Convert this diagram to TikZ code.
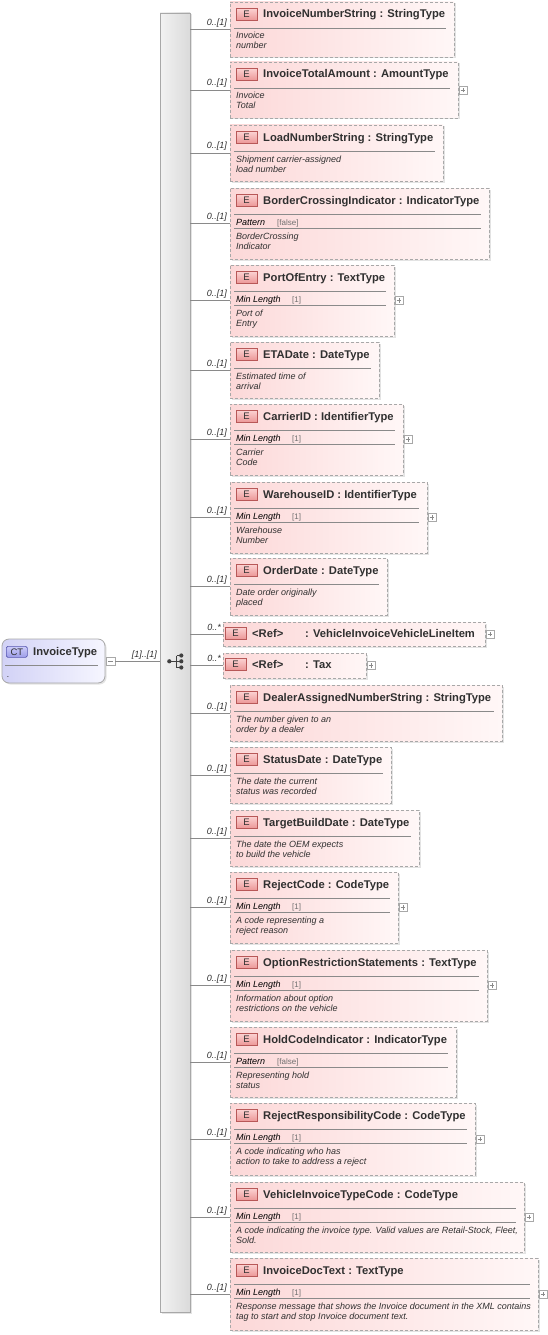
\documentclass[tikz,border=0pt]{standalone}
\usepackage{fontspec}
\setmainfont{Liberation Sans}
\usetikzlibrary{shadows}
\definecolor{boxL}{HTML}{FCD8D8}
\definecolor{boxR}{HTML}{FFF7F7}
\definecolor{bordc}{HTML}{A8A8A8}
\definecolor{linec}{HTML}{8A8A8A}
\definecolor{ttlc}{HTML}{303030}
\definecolor{dscc}{HTML}{303030}
\definecolor{valc}{HTML}{707070}
\definecolor{ebord}{HTML}{B85858}
\definecolor{etop}{HTML}{FCD4D4}
\definecolor{ebot}{HTML}{EC9898}
\definecolor{ctL}{HTML}{D2D2F6}
\definecolor{ctR}{HTML}{F6F6FF}
\definecolor{ctbord}{HTML}{5858B0}
\definecolor{cttop}{HTML}{CCCCFA}
\definecolor{ctbot}{HTML}{9C9CE8}
\definecolor{seqL}{HTML}{F2F2F2}
\definecolor{seqR}{HTML}{DADADA}
\definecolor{iconc}{HTML}{404040}
\tikzset{
  shd/.style={drop shadow={shadow xshift=1.5pt, shadow yshift=-1.5pt, fill=black, opacity=0.11}},
  elshape/.style={shd, draw=bordc, dash pattern=on 3pt off 2pt, line width=0.8pt, left color=boxL, right color=boxR, inner sep=0pt, outer sep=0pt},
  ebadge/.style={draw=ebord, line width=0.7pt, top color=etop, bottom color=ebot, minimum width=21pt, minimum height=12pt, inner sep=0pt, outer sep=0pt, font=\fontsize{9.5}{9.5}\selectfont, text=ttlc},
  ttl/.style={anchor=base west, inner sep=0pt, font=\fontsize{11.2}{13}\selectfont\bfseries, text=ttlc},
  dsc/.style={anchor=base west, inner sep=0pt, font=\fontsize{9}{10}\selectfont\itshape, text=dscc},
  fct/.style={anchor=base west, inner sep=0pt, font=\fontsize{9}{10}\selectfont\itshape, text=black},
  fctv/.style={anchor=base west, inner sep=0pt, font=\fontsize{8}{10}\selectfont, text=valc},
  mult/.style={anchor=base east, inner sep=0pt, font=\fontsize{9}{10}\selectfont\itshape, text=dscc},
  sepline/.style={draw=linec, line width=0.7pt},
  conn/.style={draw=linec, line width=0.8pt},
  togglebox/.style={draw=bordc, fill=white, line width=0.6pt, minimum width=8pt, minimum height=8pt, inner sep=0pt, outer sep=0pt},
  togglesign/.style={draw=linec, line width=0.6pt},
}
% element box: name, top, bottom, right
\newcommand\elbox[4]{%
  \coordinate (#1s) at (190,{(#2+#3)/2});
  \node[elshape, anchor=north west, minimum width={#4-230}, minimum height={#3-#2}] (#1) at (230,#2) {};
  \draw[conn] (#1s) -- (#1s -| #1.west);
  \node[mult] (#1m) at (227,{(#2+#3)/2-4}) {0..[1]};
  \node[ebadge, anchor=north west] (#1e) at (236,{#2+6}) {E};
  \draw[sepline] (234,{#2+26}) -- ({#4-8},{#2+26});
}
% ref box: name, top, bottom, right, type
\newcommand\refbox[5]{%
  \coordinate (#1s) at (190,{(#2+#3)/2});
  \node[elshape, anchor=north west, minimum width={#4-223}, minimum height={#3-#2}] (#1) at (223,#2) {};
  \draw[conn] (#1s) -- (#1s -| #1.west);
  \node[mult] (#1m) at (221,{(#2+#3)/2-4}) {0..*};
  \node[ebadge, anchor=north west] (#1e) at (225,{#2+5}) {E};
  \node[ttl] (#1t) at (252,{#2+15}) {<Ref>};
  \node[ttl] (#1u) at (305,{#2+15}) {: #5};
}
\newcommand\eltitle[3]{\node[ttl] (#1t) at (263,{#2+16}) {#3};}
% facet: name, top, right, label, value, value x
\newcommand\elfacet[6]{%
  \node[fct] (#1f) at (236,{#2+37}) {#4};
  \node[fctv] (#1v) at (#6,{#2+37}) {#5};
  \draw[sepline] (234,{#2+40}) -- ({#3-8},{#2+40});
}
% description: name, baseline, line1, line2
\newcommand\eldesc[4]{%
  \node[dsc] (#1d) at (236,#2) {#3};
  \node[dsc] (#1dd) at (236,{#2+10}) {#4};
}
\newcommand\elplus[1]{%
  \node[togglebox, anchor=west] (#1p) at ([xshift=1pt]#1.east) {};
  \draw[togglesign] ([xshift=-2.3pt]#1p.center) -- ([xshift=2.3pt]#1p.center);
  \draw[togglesign] ([yshift=-2.3pt]#1p.center) -- ([yshift=2.3pt]#1p.center);
}
\begin{document}
\begin{tikzpicture}[x=1pt, y=-1pt]
\useasboundingbox (0,0) rectangle (547,1335);
\fill[white] (0,0) rectangle (547,1335);

% sequence bar
\node[shd, draw=bordc, line width=0.8pt, left color=seqL, right color=seqR, anchor=north west, minimum width=30pt, minimum height=1299pt, inner sep=0pt, outer sep=0pt] (seq) at (160,13) {};

% complex type box
\node[shd, draw=bordc, line width=0.8pt, rounded corners=7pt, left color=ctL, right color=ctR, anchor=north west, minimum width=103pt, minimum height=44pt, inner sep=0pt, outer sep=0pt] (ct) at (2,639) {};
\node[draw=ctbord, line width=0.7pt, top color=cttop, bottom color=ctbot, rounded corners=1.5pt, minimum width=21pt, minimum height=11pt, inner sep=0pt, anchor=north west, font=\fontsize{9.5}{10}\selectfont, text=ttlc] (ctb) at (6,646) {CT};
\node[ttl] (ctt) at (33,655) {InvoiceType};
\draw[sepline] (5,665) -- (98,665);
\node[dsc] (ctd) at (7,677) {.};
\node[togglebox, minimum width=9pt] (ctm) at (110.5,661.5) {};
\draw[togglesign] ([xshift=-2.5pt]ctm.center) -- ([xshift=2.5pt]ctm.center);
\draw[conn] (ctm.east) -- (ctm.east -| seq.west);
\node[mult] (ctl) at (157,657.5) {[1]..[1]};

% sequence icon
\coordinate (q0) at (169.3,661.3);
\coordinate (qv) at (176.5,661.3);
\coordinate (q1) at (181.3,655.5);
\coordinate (q2) at (181.3,661.3);
\coordinate (q3) at (181.3,667.5);
\draw[iconc, line width=0.9pt] (q0) -- (qv);
\draw[iconc, line width=0.9pt] (qv |- q1) -- (qv |- q3);
\draw[iconc, line width=0.9pt] (qv |- q1) -- (q1) (qv) -- (q2) (qv |- q3) -- (q3);
\fill[iconc] (q0) circle (2.1pt) (q1) circle (2.1pt) (q2) circle (2.1pt) (q3) circle (2.1pt);

% 1
\elbox{b1}{2}{57}{454}
\eltitle{b1}{2}{InvoiceNumberString : StringType}
\eldesc{b1}{39}{Invoice}{number}
% 2
\elbox{b2}{62}{118}{458}
\eltitle{b2}{62}{InvoiceTotalAmount : AmountType}
\eldesc{b2}{99}{Invoice}{Total}
\elplus{b2}
% 3
\elbox{b3}{125}{181}{443}
\eltitle{b3}{125}{LoadNumberString : StringType}
\eldesc{b3}{162}{Shipment carrier-assigned}{load number}
% 4
\elbox{b4}{188}{259}{489}
\eltitle{b4}{188}{BorderCrossingIndicator : IndicatorType}
\elfacet{b4}{188}{489}{Pattern}{[false]}{277}
\eldesc{b4}{239}{BorderCrossing}{Indicator}
% 5
\elbox{b5}{265}{336}{394}
\eltitle{b5}{265}{PortOfEntry : TextType}
\elfacet{b5}{265}{394}{Min Length}{[1]}{292}
\eldesc{b5}{316}{Port of}{Entry}
\elplus{b5}
% 6
\elbox{b6}{342}{398}{379}
\eltitle{b6}{342}{ETADate : DateType}
\eldesc{b6}{379}{Estimated time of}{arrival}
% 7
\elbox{b7}{404}{475}{403}
\eltitle{b7}{404}{CarrierID : IdentifierType}
\elfacet{b7}{404}{403}{Min Length}{[1]}{292}
\eldesc{b7}{455}{Carrier}{Code}
\elplus{b7}
% 8
\elbox{b8}{482}{553}{427}
\eltitle{b8}{482}{WarehouseID : IdentifierType}
\elfacet{b8}{482}{427}{Min Length}{[1]}{292}
\eldesc{b8}{533}{Warehouse}{Number}
\elplus{b8}
% 9
\elbox{b9}{558}{615}{387}
\eltitle{b9}{558}{OrderDate : DateType}
\eldesc{b9}{595}{Date order originally}{placed}
% 10, 11 refs
\refbox{r1}{622}{646}{485}{VehicleInvoiceVehicleLineItem}
\elplus{r1}
\refbox{r2}{653}{678}{366}{Tax}
\elplus{r2}
% 12
\elbox{b12}{685}{741}{502}
\eltitle{b12}{685}{DealerAssignedNumberString : StringType}
\eldesc{b12}{722}{The number given to an}{order by a dealer}
% 13
\elbox{b13}{747}{803}{391}
\eltitle{b13}{747}{StatusDate : DateType}
\eldesc{b13}{784}{The date the current}{status was recorded}
% 14
\elbox{b14}{810}{866}{419}
\eltitle{b14}{810}{TargetBuildDate : DateType}
\eldesc{b14}{847}{The date the OEM expects}{to build the vehicle}
% 15
\elbox{b15}{872}{943}{398}
\eltitle{b15}{872}{RejectCode : CodeType}
\elfacet{b15}{872}{398}{Min Length}{[1]}{292}
\eldesc{b15}{923}{A code representing a}{reject reason}
\elplus{b15}
% 16
\elbox{b16}{950}{1021}{487}
\eltitle{b16}{950}{OptionRestrictionStatements : TextType}
\elfacet{b16}{950}{487}{Min Length}{[1]}{292}
\eldesc{b16}{1001}{Information about option}{restrictions on the vehicle}
\elplus{b16}
% 17
\elbox{b17}{1027}{1097}{456}
\eltitle{b17}{1027}{HoldCodeIndicator : IndicatorType}
\elfacet{b17}{1027}{456}{Pattern}{[false]}{277}
\eldesc{b17}{1078}{Representing hold}{status}
% 18
\elbox{b18}{1103}{1175}{475}
\eltitle{b18}{1103}{RejectResponsibilityCode : CodeType}
\elfacet{b18}{1103}{475}{Min Length}{[1]}{292}
\eldesc{b18}{1154}{A code indicating who has}{action to take to address a reject}
\elplus{b18}
% 19
\elbox{b19}{1182}{1252}{524}
\eltitle{b19}{1182}{VehicleInvoiceTypeCode : CodeType}
\elfacet{b19}{1182}{524}{Min Length}{[1]}{292}
\eldesc{b19}{1233}{A code indicating the invoice type. Valid values are Retail-Stock, Fleet,}{Sold.}
\elplus{b19}
% 20
\elbox{b20}{1258}{1330}{538}
\eltitle{b20}{1258}{InvoiceDocText : TextType}
\elfacet{b20}{1258}{538}{Min Length}{[1]}{292}
\eldesc{b20}{1309}{Response message that shows the Invoice document in the XML contains}{tag to start and stop Invoice document text.}
\elplus{b20}
\end{tikzpicture}
\end{document}
